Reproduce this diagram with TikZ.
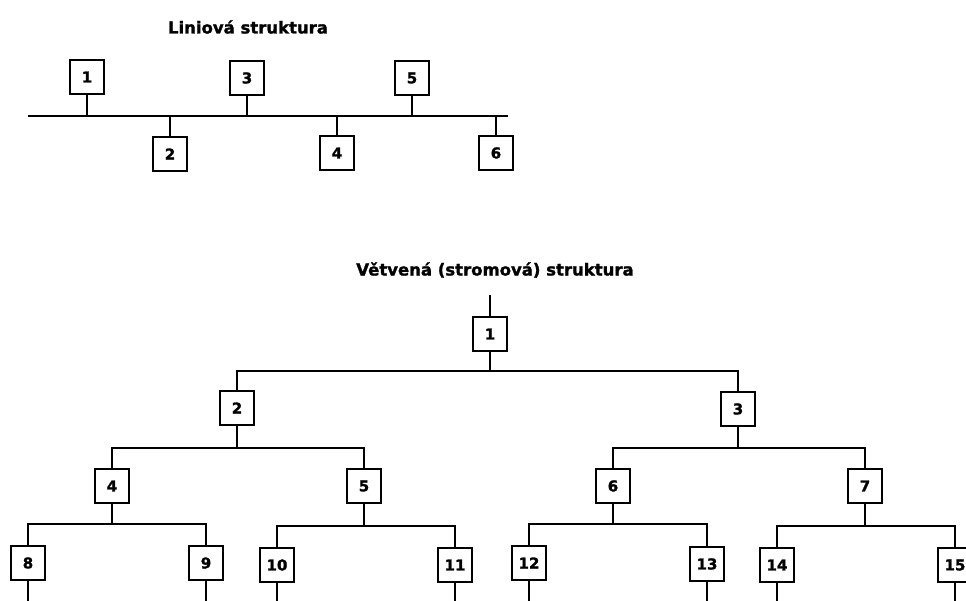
\documentclass[tikz,border=0pt]{standalone}
\usepackage{fontspec}
\setmainfont{DejaVu Sans}
\newfontfamily\heavyfont[FakeBold=1.5]{DejaVu Sans Bold}
\begin{document}
\begin{tikzpicture}[x=1pt,y=-1pt,
  box/.style={draw,line width=2pt,minimum width=34pt,minimum height=34pt,inner sep=0pt,font=\heavyfont\fontsize{15}{15}\selectfont,fill=white},
  wire/.style={line width=2pt},
  ttl/.style={font=\heavyfont\fontsize{16.5}{17}\selectfont,inner sep=0pt}]
\useasboundingbox (0,0) rectangle (966,600);
\clip (0,0) rectangle (966,600);
% ---------- linear ----------
\node[ttl] (t1) at (248,27) {Liniová struktura};
\coordinate (busL) at (28,116);
\coordinate (busR) at (508,116);
\draw[wire] (busL) -- (busR);
\node[box] (l1) at (87,77) {1};
\node[box] (l3) at (247,78) {3};
\node[box] (l5) at (412,78) {5};
\node[box] (l2) at (170,154) {2};
\node[box] (l4) at (337,153) {4};
\node[box] (l6) at (496,153) {6};
\foreach \n in {l1,l3,l5,l2,l4,l6} \draw[wire] (\n) -- (\n |- busL);
% ---------- tree ----------
\node[ttl] (t2) at (495,270) {Větvená (stromová) struktura};
\coordinate (top) at (490,295);
\node[box] (n1) at (490,334) {1};
\node[box] (n2) at (237,408) {2};
\node[box] (n3) at (738,409) {3};
\node[box] (n4) at (112,486) {4};
\node[box] (n5) at (364,486) {5};
\node[box] (n6) at (613,486) {6};
\node[box] (n7) at (865,486) {7};
\node[box] (n8) at (28,563) {8};
\node[box] (n9) at (206,563) {9};
\node[box] (n10) at (277,565) {10};
\node[box] (n11) at (455,565) {11};
\node[box] (n12) at (529,563) {12};
\node[box] (n13) at (707,564) {13};
\node[box] (n14) at (777,565) {14};
\node[box] (n15) at (955,565) {15};
\coordinate (bot) at (0,610);
\draw[wire] (top) -- (n1);
\draw[wire] (n1.south) -- (n1.south |- 0,371) -| (n2.north);
\draw[wire] (n1.south |- 0,371) -| (n3.north);
\draw[wire] (n2.south) -- (n2.south |- 0,448) -| (n4.north);
\draw[wire] (n2.south |- 0,448) -| (n5.north);
\draw[wire] (n3.south) -- (n3.south |- 0,448) -| (n6.north);
\draw[wire] (n3.south |- 0,448) -| (n7.north);
\draw[wire] (n4.south) -- (n4.south |- 0,524) -| (n8.north);
\draw[wire] (n4.south |- 0,524) -| (n9.north);
\draw[wire] (n5.south) -- (n5.south |- 0,526) -| (n10.north);
\draw[wire] (n5.south |- 0,526) -| (n11.north);
\draw[wire] (n6.south) -- (n6.south |- 0,524) -| (n12.north);
\draw[wire] (n6.south |- 0,524) -| (n13.north);
\draw[wire] (n7.south) -- (n7.south |- 0,526) -| (n14.north);
\draw[wire] (n7.south |- 0,526) -| (n15.north);
\foreach \n in {n8,n9,n10,n11,n12,n13,n14,n15} \draw[wire] (\n.south) -- (\n.south |- bot);
\end{tikzpicture}
\end{document}
